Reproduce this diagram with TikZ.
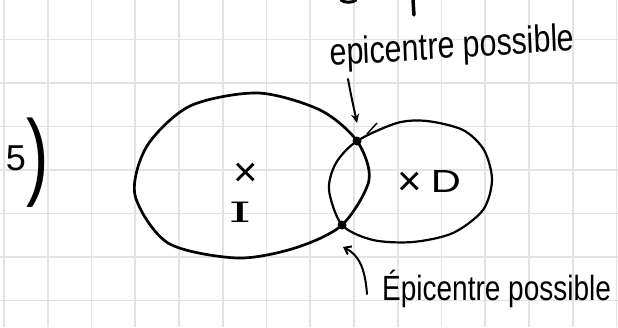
\documentclass[tikz,border=0pt]{standalone}
\usepackage{fontspec}
\setmainfont{Liberation Sans}
\newfontfamily\slabfont{DejaVu Serif}
\usetikzlibrary{arrows.meta}
\begin{document}
\begin{tikzpicture}[x=1pt,y=-1pt,
  gridline/.style={line width=1.6pt, color=black!11},
  bigcurve/.style={line width=2.7pt, line join=round},
  smallcurve/.style={line width=2.2pt, line join=round},
  hand/.style={inner sep=0pt, xscale=0.8, font=\fontsize{38}{40}\selectfont},
  handlow/.style={inner sep=0pt, xscale=0.8, font=\fontsize{35}{38}\selectfont},
  crossmark/.style={inner sep=0pt, font=\fontsize{42}{44}\selectfont},
  pointer/.style={line width=2pt, line cap=round},
  dotmark/.style={fill=black}
]
\useasboundingbox (0,0) rectangle (618,327);
\fill[white] (0,0) rectangle (618,327);
% squared paper
\foreach \i in {0,...,14} \draw[gridline] ({4+43.75*\i},0) -- ({4+43.75*\i},327);
\foreach \j in {0,...,6} \draw[gridline] (0,{39.3+43.5*\j}) -- (618,{39.3+43.5*\j});

% cut-off strokes of the line above
\draw[line width=3pt, line cap=round] (341,0) .. controls (344,3) and (353,3) .. (356,0);
\draw[line width=3.5pt, line cap=round] (413,0) -- (414,15);

% big oval I
\draw[bigcurve] plot[smooth cycle] coordinates {(135,195) (147,146) (190,106) (258,93) (320,110) (357,141) (369,180) (342,225) (295,248) (237,258) (168,243)};
% smaller oval D
\draw[smallcurve] plot[smooth cycle] coordinates {(357,141) (397,123) (427,121) (463,130) (484,150) (492,180) (483,210) (453,233) (413,242) (373,240) (342,225) (329,190) (336,163)};
\draw[line width=1.4pt] (367,134) -- (377,123);

% intersection points
\coordinate (p1) at (357,141);
\coordinate (p2) at (342,225);
\fill[dotmark] (p1) circle (4.5);
\fill[dotmark] (p2) circle (4.5);

% labels
\node[crossmark] (ci) at (246,175) {×};
\node[inner sep=0pt, xscale=2.1, font=\slabfont\fontsize{28}{30}\selectfont] (li) at (240,212) {I};
\node[crossmark] (cd) at (410,184) {×};
\node[inner sep=0pt, xscale=1.3, font=\fontsize{32}{34}\selectfont] (ld) at (446,181) {D};
\node[inner sep=0pt, font=\fontsize{36}{38}\selectfont] (n5) at (16,158) {5};
\node[inner sep=0pt, xscale=0.7, font=\fontsize{96}{98}\selectfont] (par) at (38,163) {)};

\node[hand, rotate=3, anchor=base west] (top) at (330,66) {epicentre possible};
\node[handlow, anchor=base west] (bot) at (382,300) {Épicentre possible};

% pointers
\coordinate (uatail) at (348,79);
\coordinate (uatip) at (357,123);
\draw[pointer, -{Stealth[length=9pt,width=8pt]}] (uatail) .. controls (351,95) .. (uatip);
\coordinate (latail) at (367,294);
\coordinate (latip) at (343,247);
\draw[pointer, -{Straight Barb[length=6pt,width=9pt]}] (latail) .. controls (365,268) and (359,255) .. (latip);
\end{tikzpicture}
\end{document}
